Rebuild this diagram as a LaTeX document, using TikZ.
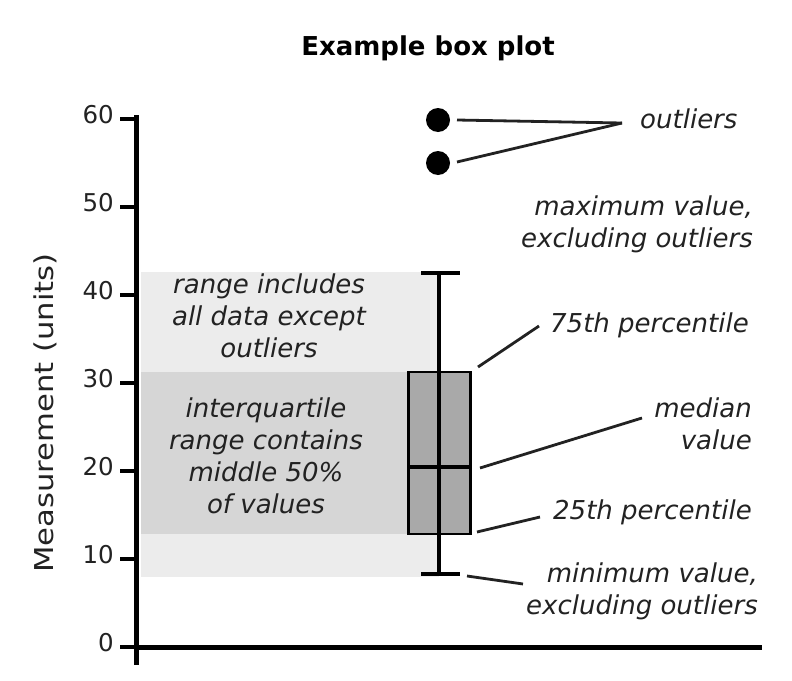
\documentclass[tikz,border=0pt]{standalone}
\usepackage{fontspec}
\setmainfont{DejaVu Sans}
\definecolor{bandlight}{HTML}{ECECEC}
\definecolor{banddark}{HTML}{D6D6D6}
\definecolor{boxfill}{HTML}{A9A9A9}
\definecolor{txt}{HTML}{222222}
\tikzset{
  lbl/.style={inner sep=0pt, text=txt, font=\fontsize{26}{32}\selectfont\itshape},
  ticklbl/.style={inner sep=0pt, text=txt, anchor=base east, font=\fontsize{24.5}{28}\selectfont},
  axisline/.style={line width=5pt, line cap=rect},
  tickline/.style={line width=4pt},
  whisk/.style={line width=4pt},
  conn/.style={line width=2.8pt, draw=txt},
}
\begin{document}
\begin{tikzpicture}[x=1pt,y=-1pt]
\useasboundingbox (0,0) rectangle (792,680);
% bands
\fill[bandlight] (141,272) rectangle (439,577);
\fill[banddark] (141,372) rectangle (408,534);
% title
\node[inner sep=0pt, anchor=base, font=\fontsize{26}{32}\selectfont\bfseries] (title) at (428,55) {Example box plot};
% y label
\node[inner sep=0pt, rotate=90, anchor=center, text=txt, font=\fontsize{26}{32}\selectfont] (ylab) at (45,413) {\scalebox{1.18}[1]{Measurement (units)}};
% axes
\draw[axisline] (136,117) -- (136,662);
\draw[axisline] (136,647) -- (759,647);
% ticks
\foreach \v/\yy in {0/647,10/559,20/471,30/383,40/295,50/207,60/119}{
  \draw[tickline] (120,\yy) -- (136,\yy);
  \node[ticklbl] (t\v) at (114,\yy+4) {\v};
}
% whisker
\draw[whisk] (439,273) -- (439,574);
\draw[whisk] (421,273) -- (460,273);
\draw[whisk] (421,574) -- (460,574);
% box
\node[draw, line width=2.6pt, fill=boxfill, minimum width=62pt, minimum height=162pt, inner sep=0pt] (box) at (439.5,453) {};
\draw[whisk] (439,372) -- (439,534);
\draw[whisk] (box.west |- 0,467) -- (box.east |- 0,467);
% outliers
\node[circle, fill=black, minimum size=24pt, inner sep=0pt] (o1) at (438,120) {};
\node[circle, fill=black, minimum size=24pt, inner sep=0pt] (o2) at (438,163) {};
\coordinate (oj) at (622,123);
\draw[conn] (457,120) -- (oj);
\draw[conn] (457,162) -- (oj);
\node[lbl, anchor=base west] (outl) at (640,128) {outliers};
% band texts (base anchor = last line)
\node[lbl, anchor=base, align=center] (rangetxt) at (269,357) {range includes\\all data except\\outliers};
\node[lbl, anchor=base, align=center] (iqrtxt) at (266,513) {interquartile\\range contains\\middle 50\%\\of values};
% right labels
\node[lbl, anchor=base east, align=right] (maxtxt) at (753,247) {maximum value,\\excluding outliers};
\node[lbl, anchor=base west] (p75) at (550,332) {75th percentile};
\node[lbl, anchor=base east, align=right] (medtxt) at (752,449) {median\\value};
\node[lbl, anchor=base west] (p25) at (553,519) {25th percentile};
\node[lbl, anchor=base east, align=right] (mintxt) at (758,614) {minimum value,\\excluding outliers};
% connectors
\coordinate (c75) at (539,326);
\coordinate (cmed) at (642,418);
\coordinate (c25) at (540,517);
\coordinate (cmin) at (523,584);
\draw[conn] (478,367) -- (c75);
\draw[conn] (480,468) -- (cmed);
\draw[conn] (477,532) -- (c25);
\draw[conn] (467,576) -- (cmin);
\end{tikzpicture}
\end{document}
